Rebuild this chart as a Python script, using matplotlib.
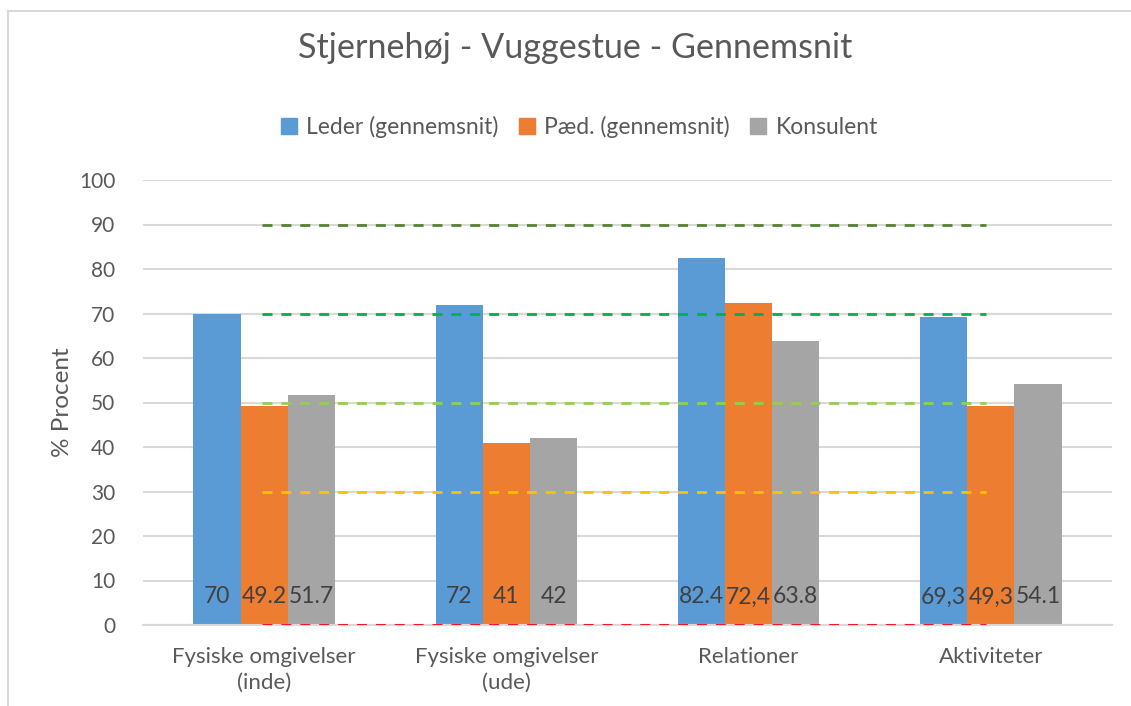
import matplotlib
matplotlib.use('Agg')
import matplotlib.pyplot as plt
from matplotlib.lines import Line2D
import numpy as np

plt.rcParams['font.family'] = ['Lato', 'DejaVu Sans']

title = "Stjernehøj - Vuggestue - Gennemsnit"
categories = ["Fysiske omgivelser\n(inde)", "Fysiske omgivelser\n(ude)",
              "Relationer", "Aktiviteter"]
series_names = ["Leder (gennemsnit)", "Pæd. (gennemsnit)", "Konsulent"]
leder = [70, 72, 82.4, 69.3]
paed = [49.2, 41, 72.4, 49.3]
konsulent = [51.7, 42, 63.8, 54.1]
# labels as they appear in the chart (mixed decimal marks)
leder_lbl = ["70", "72", "82.4", "69,3"]
paed_lbl = ["49.2", "41", "72,4", "49,3"]
konsulent_lbl = ["51.7", "42", "63.8", "54.1"]
# reference lines
ref_levels = [90, 70, 50, 30, 0]
ref_start, ref_end = -0.01, 2.98

bar_colours = ['#5B9BD5', '#ED7D31', '#A5A5A5']
ref_colours = ['#548235', '#00B050', '#92D050', '#FFC000', '#FF0000']
text_c = '#595959'

fig = plt.figure(figsize=(11.31, 7.06), dpi=100)
ax = fig.add_axes([143/1131, 1-625/706, (1112-143)/1131, (625-180)/706])

x = np.arange(len(categories))
w = 0.195
data = [leder, paed, konsulent]
labels = [leder_lbl, paed_lbl, konsulent_lbl]
for i in range(3):
    pos = x + (i-1)*w
    ax.bar(pos, data[i], width=w, color=bar_colours[i], zorder=2)
    for p, lbl in zip(pos, labels[i]):
        ax.text(p, 6.3, lbl, ha='center', va='center', fontsize=16.5,
                color='#404040', zorder=4)

for lvl, c in zip(ref_levels, ref_colours):
    ax.plot([ref_start, ref_end], [lvl, lvl], color=c, lw=2.0,
            ls=(0, (3.6, 3.2)), zorder=3)

ax.set_xlim(-0.5, 3.5)
ax.set_ylim(0, 100)
ax.set_yticks(range(0, 101, 10))
ax.set_xticks(x)
ax.set_xticklabels(categories, fontsize=16, color=text_c, linespacing=1.35)
ax.tick_params(axis='y', labelsize=15, labelcolor=text_c, length=0, pad=20)
ax.tick_params(axis='x', length=0, pad=16)
ax.yaxis.grid(True, color='#D9D9D9', lw=1.5, zorder=0)
ax.set_axisbelow(True)
for s in ['top', 'right', 'left']:
    ax.spines[s].set_visible(False)
ax.spines['bottom'].set_color('#D9D9D9')
ax.spines['bottom'].set_linewidth(1.5)
ax.set_ylabel("% Procent", fontsize=17.5, color=text_c, labelpad=4)

fig.text(575/1131, 1-48/706, title, ha='center', va='center',
         fontsize=24.6, color=text_c)

handles = [Line2D([], [], marker='s', ls='', markersize=11,
                  color=bar_colours[i]) for i in range(3)]
fig.legend(handles, series_names, loc='center', ncol=3,
           bbox_to_anchor=(578/1131, 1-127/706), frameon=False,
           fontsize=16.5, handletextpad=0.3, columnspacing=0.8,
           labelcolor=text_c, handlelength=0.9)

# chart area border (left and top visible)
fig.add_artist(Line2D([8/1131, 8/1131], [0, 1-11/706], color='#D9D9D9', lw=1.5))
fig.add_artist(Line2D([8/1131, 1], [1-11/706, 1-11/706], color='#D9D9D9', lw=1.5))

fig.savefig('out.png', dpi=100)
